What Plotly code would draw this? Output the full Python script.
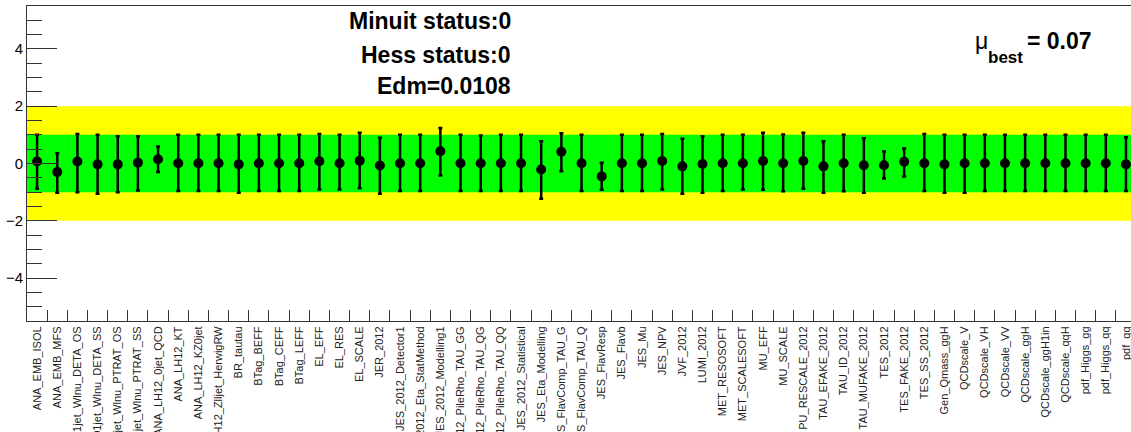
import plotly.graph_objects as go

# nuisance parameter names
names = [
    "ANA_EMB_ISOL", "ANA_EMB_MFS", "ANA_LH12_01jet_Wlnu_DETA_OS", "ANA_LH12_01jet_Wlnu_DETA_SS",
    "ANA_LH12_01jet_Wlnu_PTRAT_OS", "ANA_LH12_01jet_Wlnu_PTRAT_SS", "ANA_LH12_0jet_QCD", "ANA_LH12_KT",
    "ANA_LH12_KZ0jet", "ANA_LH12_Zlljet_HerwigRW", "BR_tautau", "BTag_BEFF", "BTag_CEFF", "BTag_LEFF",
    "EL_EFF", "EL_RES", "EL_SCALE", "JER_2012", "JES_2012_Detector1", "JES_2012_Eta_StatMethod",
    "JES_2012_Modelling1", "JES_2012_PileRho_TAU_GG", "JES_2012_PileRho_TAU_QG", "JES_2012_PileRho_TAU_QQ",
    "JES_2012_Statistical", "JES_Eta_Modelling", "JES_FlavComp_TAU_G", "JES_FlavComp_TAU_Q",
    "JES_FlavResp", "JES_Flavb", "JES_Mu", "JES_NPV", "JVF_2012", "LUMI_2012", "MET_RESOSOFT",
    "MET_SCALESOFT", "MU_EFF", "MU_SCALE", "PU_RESCALE_2012", "TAU_EFAKE_2012", "TAU_ID_2012",
    "TAU_MUFAKE_2012", "TES_2012", "TES_FAKE_2012", "TES_SS_2012", "Gen_Qmass_ggH", "QCDscale_V",
    "QCDscale_VH", "QCDscale_VV", "QCDscale_ggH", "QCDscale_ggH1in", "QCDscale_qqH", "pdf_Higgs_gg",
    "pdf_Higgs_qq", "pdf_qq",
]

# fitted pull values
pull = [
    0.07, -0.30, 0.07, -0.03, -0.03, 0.03, 0.15, 0.01, 0.01, 0.01,
    -0.03, 0.01, 0.01, 0.01, 0.08, 0.01, 0.10, -0.07, 0.01, 0.01,
    0.43, 0.01, 0.01, 0.01, 0.01, -0.21, 0.41, 0.01, -0.45, 0.01,
    0.01, 0.09, -0.10, -0.02, 0.01, 0.01, 0.09, 0.01, 0.09, -0.10,
    0.01, -0.06, -0.06, 0.06, 0.01, -0.03, 0.01, 0.01, 0.01, 0.01,
    0.01, 0.01, 0.01, 0.01, -0.03,
]

# upper / lower ends of the error bars
upper = [
    1.00, 0.36, 1.03, 1.00, 0.95, 0.95, 0.59, 1.00, 1.00, 1.00,
    1.00, 1.00, 1.00, 1.00, 1.03, 1.00, 1.07, 0.90, 1.00, 1.00,
    1.24, 1.00, 0.98, 1.00, 1.00, 0.78, 1.06, 1.00, 0.03, 1.00,
    1.00, 1.03, 0.86, 0.95, 1.00, 1.00, 1.07, 1.01, 1.07, 0.78,
    1.00, 0.88, 0.42, 0.52, 1.03, 1.00, 1.00, 1.00, 1.00, 1.00,
    1.00, 1.00, 1.00, 1.00, 0.92,
]
lower = [
    -0.88, -1.02, -1.00, -1.06, -1.00, -0.94, -0.30, -0.96, -0.96, -0.96,
    -1.02, -0.96, -0.96, -0.96, -0.91, -0.91, -0.86, -1.06, -0.96, -0.96,
    -0.42, -0.96, -0.96, -0.96, -0.96, -1.23, -0.27, -0.96, -0.92, -0.96,
    -0.96, -0.91, -1.06, -1.02, -0.96, -0.91, -0.92, -0.97, -0.88, -1.02,
    -0.97, -1.02, -0.52, -0.45, -0.96, -1.02, -1.02, -0.96, -0.96, -0.96,
    -0.96, -0.96, -0.96, -0.96, -0.96,
]

err_up = [u - p for u, p in zip(upper, pull)]
err_dn = [p - l for p, l in zip(pull, lower)]

FONT = "Liberation Sans, Arial, Helvetica, sans-serif"

fig = go.Figure()
fig.add_trace(go.Scatter(
    x=names, y=pull, mode="markers",
    marker=dict(symbol="circle", size=10, color="black"),
    error_y=dict(type="data", array=err_up, arrayminus=err_dn, symmetric=False,
                 color="black", thickness=2.5, width=2),
    error_x=dict(type="constant", value=0.36, color="black", thickness=2.5, width=2),
    showlegend=False, hoverinfo="skip",
))

# +-2 sigma (yellow) and +-1 sigma (green) bands
fig.add_shape(type="rect", xref="paper", x0=0, x1=1, y0=-2, y1=2,
              fillcolor="#ffff00", line_width=0, layer="below")
fig.add_shape(type="rect", xref="paper", x0=0, x1=1, y0=-1, y1=1,
              fillcolor="#00ff00", line_width=0, layer="below")

ann_font = dict(family=FONT, size=23, color="black")
for txt, yy in [("Minuit status:0", 0.953), ("Hess status:0", 0.845), ("Edm=0.0108", 0.747)]:
    fig.add_annotation(text="<b>%s</b>" % txt, xref="paper", yref="paper", x=0.440, y=yy,
                       xanchor="right", yanchor="middle", showarrow=False, font=ann_font)

# mu_best label: symbol, subscript and value
fig.add_annotation(text="μ", xref="paper", yref="paper", x=0.857, y=0.888,
                   xanchor="left", yanchor="middle", showarrow=False,
                   font=dict(family=FONT, size=23, color="black"))
fig.add_annotation(text="<b>best</b>", xref="paper", yref="paper", x=0.869, y=0.838,
                   xanchor="left", yanchor="middle", showarrow=False,
                   font=dict(family=FONT, size=17, color="black"))
fig.add_annotation(text="<b>= 0.07</b>", xref="paper", yref="paper", x=0.904, y=0.890,
                   xanchor="left", yanchor="middle", showarrow=False, font=ann_font)

fig.update_layout(
    width=1131, height=432,
    margin=dict(l=27, r=0, t=6, b=111),
    plot_bgcolor="white", paper_bgcolor="white",
    font=dict(family=FONT, color="black"),
    xaxis=dict(
        type="category", range=[-0.5, 54.25], tickson="boundaries",
        ticks="inside", ticklen=11, tickcolor="#333", tickwidth=1,
        tickangle=-90, tickfont=dict(size=11, family=FONT, color="#222"),
        showline=True, linecolor="#333", linewidth=1, mirror=True,
        showgrid=False, zeroline=False, automargin=False,
    ),
    yaxis=dict(
        range=[-5.5, 5.5], tickvals=[-4, -2, 0, 2, 4],
        ticks="inside", ticklen=30, tickcolor="#333", tickwidth=1,
        minor=dict(dtick=0.5, ticks="inside", ticklen=15, tickcolor="#333", showgrid=False),
        tickfont=dict(size=15, family=FONT, color="black"),
        showline=True, linecolor="#333", linewidth=1,
        showgrid=False, zeroline=False, automargin=False,
    ),
)

fig.write_html("out.html", config={"displayModeBar": False},
               post_script="document.body.style.margin='0';")
